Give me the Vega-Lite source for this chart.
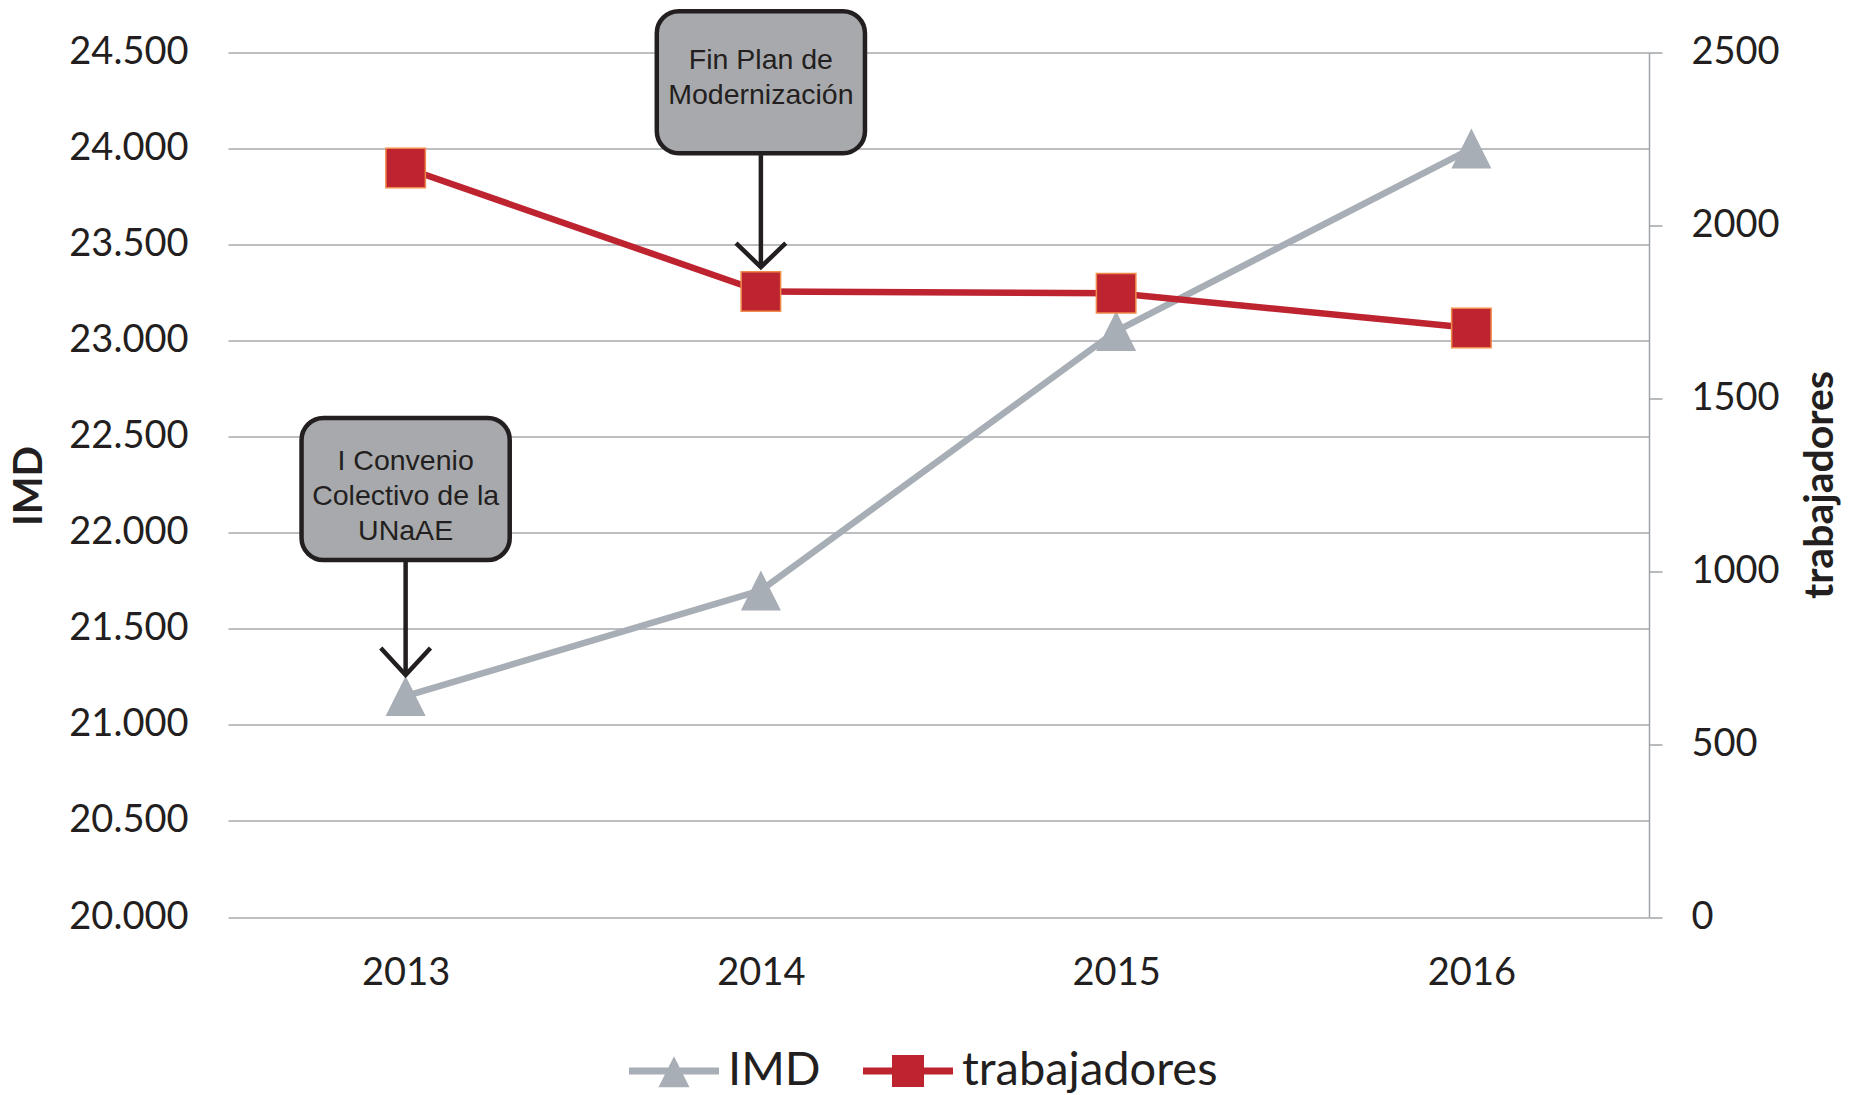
{
  "$schema": "https://vega.github.io/schema/vega-lite/v6.json",
  "width": 1421,
  "height": 864.5,
  "autosize": {"type": "none"},
  "padding": {"left": 228, "top": 52.5, "right": 202, "bottom": 178},
  "background": "white",
  "config": {
    "view": {"stroke": null},
    "axis": {"labelFont": "Lato", "titleFont": "Lato", "labelColor": "#231f20", "titleColor": "#231f20"}
  },
  "datasets": {
    "series": [
      {"anio": 2013, "serie": "IMD", "valor": 21150},
      {"anio": 2014, "serie": "IMD", "valor": 21700},
      {"anio": 2015, "serie": "IMD", "valor": 23050},
      {"anio": 2016, "serie": "IMD", "valor": 24000},
      {"anio": 2013, "serie": "trabajadores", "valor": 2166},
      {"anio": 2014, "serie": "trabajadores", "valor": 1809},
      {"anio": 2015, "serie": "trabajadores", "valor": 1804},
      {"anio": 2016, "serie": "trabajadores", "valor": 1703}
    ],
    "cajas": [
      {"x1": 2013.707, "x2": 2014.293, "y1": 24715, "y2": 23976},
      {"x1": 2012.707, "x2": 2013.293, "y1": 22598, "y2": 21858}
    ],
    "flechas": [
      {"id": "a1s", "orden": 1, "x": 2014, "y": 23966},
      {"id": "a1s", "orden": 2, "x": 2014, "y": 23383},
      {"id": "a1h", "orden": 1, "x": 2013.93, "y": 23508},
      {"id": "a1h", "orden": 2, "x": 2014, "y": 23383},
      {"id": "a1h", "orden": 3, "x": 2014.07, "y": 23508},
      {"id": "a2s", "orden": 1, "x": 2013, "y": 21848},
      {"id": "a2s", "orden": 2, "x": 2013, "y": 21260},
      {"id": "a2h", "orden": 1, "x": 2012.93, "y": 21400},
      {"id": "a2h", "orden": 2, "x": 2013, "y": 21260},
      {"id": "a2h", "orden": 3, "x": 2013.07, "y": 21400}
    ],
    "textos": [
      {"x": 2014, "y": 24459, "texto": "Fin Plan de\nModernización"},
      {"x": 2013, "y": 22374, "texto": "I Convenio\nColectivo de la\nUNaAE"}
    ]
  },
  "layer": [
    {
      "data": {"name": "series"},
      "transform": [{"filter": "datum.serie === 'IMD'"}],
      "encoding": {
        "x": {
          "field": "anio", "type": "quantitative", "title": null,
          "scale": {"domain": [2012.5, 2016.5], "nice": false, "zero": false},
          "axis": {"values": [2013, 2014, 2015, 2016], "format": "d", "grid": false, "domain": false, "ticks": false, "tickSize": 0, "labelPadding": 37, "labelFontSize": 38, "labelFlush": false, "labelOverlap": false}
        },
        "y": {
          "field": "valor", "type": "quantitative",
          "scale": {"domain": [20000, 24500], "nice": false, "zero": false},
          "axis": {
            "title": "IMD",
            "values": [20000, 20500, 21000, 21500, 22000, 22500, 23000, 23500, 24000, 24500],
            "labelExpr": "replace(format(datum.value, ','), ',', '.')",
            "grid": true, "gridColor": "#a6a9ad", "gridWidth": 1.5,
            "domain": false, "ticks": false, "tickSize": 0,
            "labelPadding": 40, "labelFontSize": 38,
            "titleFontSize": 40, "titleFontWeight": "bold",
            "titleAngle": 270, "titleX": -199, "titleY": 433, "titleAlign": "center", "titleBaseline": "middle"
          }
        }
      },
      "layer": [
        {
          "mark": {"type": "line", "strokeWidth": 6.5, "strokeJoin": "round", "strokeCap": "round"},
          "encoding": {
            "color": {
              "field": "serie", "type": "nominal",
              "scale": {"domain": ["IMD", "trabajadores"], "range": ["#a8aeb5", "#be2430"]},
              "legend": {
                "title": null, "orient": "none", "legendX": 401, "legendY": 973.5, "direction": "horizontal",
                "symbolSize": 8100, "labelFont": "Lato", "labelFontSize": 47, "labelColor": "#231f20",
                "labelOffset": 9, "columnPadding": 42, "labelLimit": 0, "padding": 0,
                "encode": {
                  "symbols": {
                    "update": {
                      "shape": {"signal": "datum.value === 'IMD' ? 'M-1,-0.078L1,-0.078L1,0.078L-1,0.078Z M0,-0.33L0.345,0.36L-0.345,0.36Z' : 'M-1,-0.078L1,-0.078L1,0.078L-1,0.078Z M-0.356,-0.356L0.356,-0.356L0.356,0.356L-0.356,0.356Z'"},
                      "fill": {"signal": "datum.value === 'IMD' ? '#a8aeb5' : '#be2430'"},
                      "fillOpacity": {"value": 1},
                      "stroke": {"value": "transparent"},
                      "strokeWidth": {"value": 0},
                      "opacity": {"value": 1}
                    }
                  }
                }
              }
            }
          }
        },
        {
          "mark": {"type": "point", "shape": "M0,-1L1,1L-1,1Z", "filled": true, "size": 1600, "color": "#a8aeb5", "opacity": 1}
        }
      ]
    },
    {
      "data": {"name": "series"},
      "transform": [{"filter": "datum.serie === 'trabajadores'"}],
      "encoding": {
        "x": {"field": "anio", "type": "quantitative", "title": null, "scale": {"domain": [2012.5, 2016.5], "nice": false, "zero": false}},
        "y": {
          "field": "valor", "type": "quantitative",
          "scale": {"domain": [0, 2500], "nice": false, "zero": false},
          "axis": {
            "orient": "right", "title": "trabajadores",
            "values": [0, 500, 1000, 1500, 2000, 2500], "format": "d",
            "grid": false, "domain": true, "domainColor": "#a0a4a8", "domainWidth": 1.5,
            "ticks": true, "tickColor": "#a0a4a8", "tickWidth": 1.5, "tickSize": 13,
            "labelPadding": 29, "labelFontSize": 38,
            "titleFontSize": 41, "titleFontWeight": "bold",
            "titleAngle": 270, "titleX": 171, "titleY": 432, "titleAlign": "center", "titleBaseline": "middle"
          }
        }
      },
      "layer": [
        {
          "mark": {"type": "line", "strokeWidth": 6.5, "strokeJoin": "round", "strokeCap": "round"},
          "encoding": {
            "color": {"field": "serie", "type": "nominal", "scale": {"domain": ["IMD", "trabajadores"], "range": ["#a8aeb5", "#be2430"]}}
          }
        },
        {
          "mark": {"type": "point", "shape": "square", "filled": true, "size": 1560, "fill": "#be2430", "stroke": "#f08a4b", "strokeWidth": 1.5, "opacity": 1}
        }
      ]
    },
    {
      "layer": [
        {
          "data": {"name": "cajas"},
          "mark": {"type": "rect", "cornerRadius": 22, "fill": "#a7a9ac", "stroke": "#231f20", "strokeWidth": 4.5},
          "encoding": {
            "x": {"field": "x1", "type": "quantitative", "title": null, "scale": {"domain": [2012.5, 2016.5], "nice": false, "zero": false}},
            "x2": {"field": "x2"},
            "y": {"field": "y1", "type": "quantitative", "scale": {"domain": [20000, 24500], "nice": false, "zero": false}, "axis": null},
            "y2": {"field": "y2"}
          }
        },
        {
          "data": {"name": "flechas"},
          "mark": {"type": "line", "color": "#231f20", "strokeWidth": 4.5, "strokeJoin": "miter", "strokeCap": "butt"},
          "encoding": {
            "x": {"field": "x", "type": "quantitative", "title": null},
            "y": {"field": "y", "type": "quantitative", "axis": null},
            "detail": {"field": "id"},
            "order": {"field": "orden"}
          }
        },
        {
          "data": {"name": "textos"},
          "mark": {"type": "text", "font": "Liberation Sans", "fontSize": 28.5, "lineBreak": "\n", "lineHeight": 35, "color": "#231f20", "align": "center", "baseline": "middle"},
          "encoding": {
            "x": {"field": "x", "type": "quantitative", "title": null},
            "y": {"field": "y", "type": "quantitative", "axis": null},
            "text": {"field": "texto"}
          }
        }
      ]
    }
  ],
  "resolve": {"scale": {"y": "independent"}}
}
